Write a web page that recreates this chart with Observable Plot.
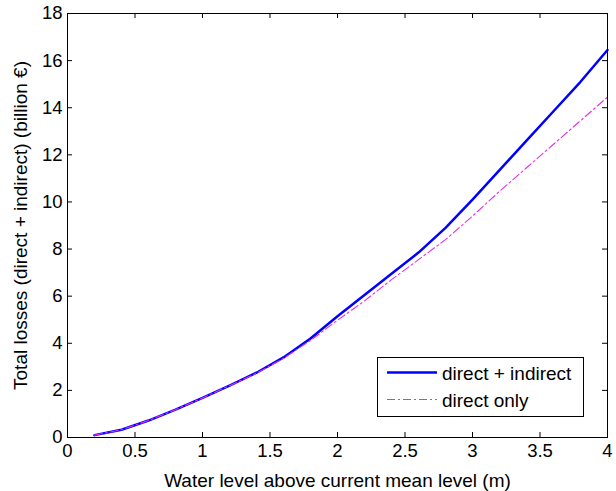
<!DOCTYPE html>
<html>
<head>
<meta charset="utf-8">
<script src="https://cdn.jsdelivr.net/npm/d3@7"></script>
<script src="https://cdn.jsdelivr.net/npm/@observablehq/plot@0.6"></script>
<style>
  html, body { margin: 0; padding: 0; background: white; }
  svg { display: block; }
</style>
</head>
<body>
<div id="chart"></div>
<script>
const waterLevel = [0.2, 0.4, 0.6, 0.8, 1.0, 1.2, 1.4, 1.6, 1.8, 2.0, 2.2, 2.4, 2.6, 2.8, 3.0, 3.2, 3.4, 3.6, 3.8, 4.0];
const directIndirect = [0.1, 0.33, 0.72, 1.18, 1.68, 2.2, 2.75, 3.4, 4.2, 5.15, 6.05, 6.95, 7.85, 8.9, 10.1, 11.35, 12.6, 13.85, 15.1, 16.45];
const directOnly = [0.1, 0.33, 0.72, 1.18, 1.68, 2.2, 2.73, 3.36, 4.12, 4.98, 5.8, 6.7, 7.55, 8.4, 9.4, 10.45, 11.45, 12.45, 13.45, 14.45];
const xTicks = [0, 0.5, 1, 1.5, 2, 2.5, 3, 3.5, 4];
const yTicks = [0, 2, 4, 6, 8, 10, 12, 14, 16, 18];
const seriesNames = ["direct + indirect", "direct only"];
const xLabel = "Water level above current mean level (m)";
const yLabel = "Total losses (direct + indirect) (billion €)";

const rows = waterLevel.map((x, i) => ({x, di: directIndirect[i], d: directOnly[i]}));

const W = 616, H = 491;
const mT = 13, mR = 9, mB = 54, mL = 67;
const innerH = H - mT - mB;
const innerW = W - mL - mR;
const tk = 5;
const blue = "#0000ff", mag = "#e030e6";
const font = "'Liberation Sans', Arial, Helvetica, sans-serif";

const chart = Plot.plot({
  width: W, height: H,
  marginTop: mT, marginRight: mR, marginBottom: mB, marginLeft: mL,
  style: {fontFamily: font, fontSize: "18.5px", background: "white", color: "black"},
  x: {domain: [0, 4]},
  y: {domain: [0, 18]},
  marks: [
    Plot.line(rows, {x: "x", y: "di", stroke: blue, strokeWidth: 2.5}),
    Plot.line(rows, {x: "x", y: "d", stroke: mag, strokeWidth: 1.1, strokeDasharray: "8,3,2,3"}),
    Plot.tickX(xTicks, {x: d => d, insetTop: innerH - tk, stroke: "black"}),
    Plot.tickX(xTicks, {x: d => d, insetBottom: innerH - tk, stroke: "black"}),
    Plot.tickY(yTicks, {y: d => d, insetRight: innerW - tk, stroke: "black"}),
    Plot.tickY(yTicks, {y: d => d, insetLeft: innerW - tk, stroke: "black"}),
    Plot.axisX({ticks: xTicks, tickSize: 0, tickPadding: 6, tickFormat: d => String(d),
      label: null}),
    Plot.axisY({ticks: yTicks, tickSize: 0, tickPadding: 5, tickFormat: d => String(d),
      label: null}),
    Plot.axisX({ticks: [], tickSize: 0, fontSize: 19,
      label: xLabel, labelAnchor: "center", labelArrow: "none", labelOffset: 49}),
    Plot.axisY({ticks: [], tickSize: 0, fontSize: 19,
      label: yLabel, labelAnchor: "center", labelArrow: "none", labelOffset: 54}),
    Plot.frame({stroke: "black", strokeWidth: 1})
  ]
});

document.getElementById("chart").appendChild(chart);

// Legend (MATLAB style box)
const svg = d3.select(chart);
const lg = svg.append("g").attr("font-family", font).attr("font-size", 19).attr("text-anchor", "start");
lg.append("rect").attr("x", 377.5).attr("y", 357.5).attr("width", 206).attr("height", 59)
  .attr("fill", "white").attr("stroke", "black").attr("stroke-width", 1);
const entries = [
  {name: seriesNames[0], stroke: blue, w: 2.5, dash: null, y: 372.5},
  {name: seriesNames[1], stroke: mag, w: 1.1, dash: "8,3,2,3", y: 399.5}
];
entries.forEach(e => {
  const l = lg.append("line").attr("x1", 387).attr("x2", 437).attr("y1", e.y).attr("y2", e.y)
    .attr("stroke", e.stroke).attr("stroke-width", e.w);
  if (e.dash) l.attr("stroke-dasharray", e.dash);
  lg.append("text").attr("x", 442).attr("y", e.y + 7).attr("fill", "black").text(e.name);
});
</script>
</body>
</html>
